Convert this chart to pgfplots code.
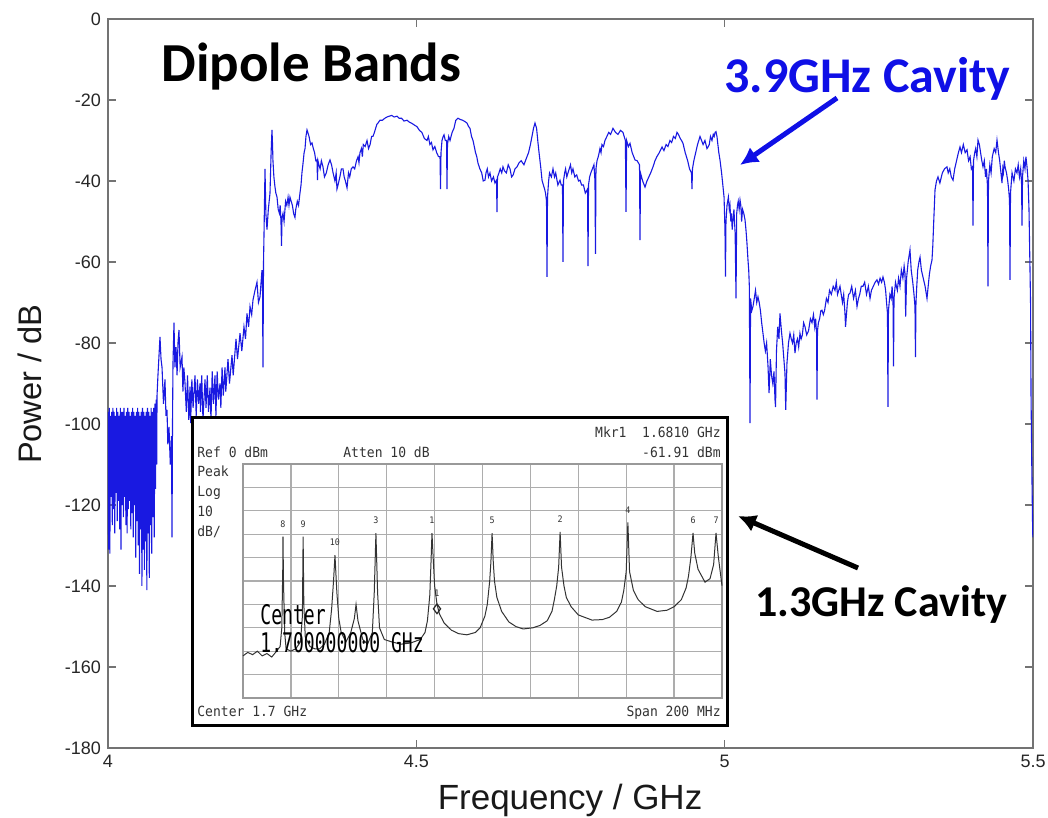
\documentclass[border=0pt]{standalone}
\usepackage{pgfplots}
\pgfplotsset{compat=1.18}
\usetikzlibrary{arrows.meta}
\usepackage{fontspec}
\setmainfont{Liberation Sans}
\newfontfamily\calibri{Carlito}
\newfontfamily\spec[FakeStretch=0.93]{DejaVu Sans Mono}
\newfontfamily\specbig[FakeStretch=0.67]{DejaVu Sans Mono}
\definecolor{trace}{RGB}{25,25,225}
\definecolor{annot}{RGB}{15,15,230}
\begin{document}
\begin{tikzpicture}
\useasboundingbox (-54pt,-35pt) rectangle (470pt,374pt);
\begin{axis}[
  at={(0pt,0pt)}, anchor=south west,
  scale only axis, width=462.5pt, height=364.5pt,
  xmin=4, xmax=5.5, ymin=-180, ymax=0,
  xtick={4,4.5,5,5.5}, ytick={-180,-160,-140,-120,-100,-80,-60,-40,-20,0},
  xticklabels={4,4.5,5,5.5},
  /pgf/number format/assume math mode=true,
  ticklabel style={font=\fontsize{9}{10}\selectfont, text=black!85},
  axis line style={black!55, line width=0.6pt},
  major tick style={black!55, line width=0.6pt},
  major tick length=4pt,
  tick align=inside,
  xlabel={Frequency / GHz}, ylabel={Power / dB},
  xlabel style={font=\fontsize{17.5}{19}\selectfont, text=black!90, at={(axis description cs:0.4995,-0.0713)}, anchor=center},
  ylabel style={font=\fontsize{16.3}{18}\selectfont, text=black!90, at={(axis description cs:-0.0843,0.499)}, anchor=center},
]
\addplot[trace, line width=0.55pt] coordinates {
(4.000,-97)(4.001,-131)(4.002,-96)(4.003,-132)(4.004,-98)(4.005,-118)(4.006,-97)(4.007,-125)(4.008,-96)(4.009,-121)
(4.010,-97)(4.011,-127)(4.012,-98)(4.013,-117)(4.014,-96)(4.015,-124)(4.016,-97)(4.017,-119)(4.018,-98)(4.019,-126)
(4.020,-96)(4.021,-131)(4.022,-97)(4.023,-120)(4.024,-97)(4.025,-123)(4.026,-96)(4.027,-118)(4.028,-98)(4.029,-125)
(4.030,-97)(4.031,-127)(4.032,-96)(4.033,-121)(4.034,-97)(4.035,-119)(4.036,-98)(4.037,-126)(4.038,-97)(4.039,-122)
(4.040,-96)(4.041,-128)(4.042,-97)(4.043,-120)(4.044,-98)(4.045,-133)(4.046,-97)(4.047,-124)(4.048,-96)(4.049,-130)
(4.050,-97)(4.051,-137)(4.052,-98)(4.053,-126)(4.054,-97)(4.055,-140)(4.056,-96)(4.057,-131)(4.058,-97)(4.059,-136)
(4.060,-98)(4.061,-129)(4.062,-97)(4.063,-141)(4.064,-96)(4.065,-127)(4.066,-97)(4.067,-138)(4.068,-98)(4.069,-125)
(4.070,-96)(4.071,-132)(4.072,-97)(4.073,-123)(4.074,-96)(4.075,-128)(4.076,-95)(4.077,-116)(4.078,-94)(4.079,-110)
(4.0795,-93)(4.0810,-88)(4.0843,-78.5)(4.0860,-84)(4.0876,-86)(4.0900,-95)(4.0924,-89)(4.0940,-98)(4.0957,-96.5)
(4.0970,-105)(4.0989,-100.7)(4.1010,-110)(4.1030,-103)(4.1038,-128)(4.1046,-100)(4.1054,-85)(4.1070,-75)(4.1085,-86)
(4.1103,-81)(4.1120,-88)(4.1135,-80)(4.1151,-76.8)(4.1170,-86)(4.1200,-83.4)(4.1215,-92)(4.1230,-86)(4.1249,-90)
(4.127,-97)(4.129,-88)(4.131,-99)(4.133,-90.8)(4.134,-99.8)(4.136,-89)(4.138,-96)(4.1411,-88)(4.143,-98)(4.145,-89)
(4.147,-95)(4.1492,-90)(4.150,-97)(4.152,-88)(4.154,-99)(4.1573,-89)(4.159,-96)(4.161,-88)(4.163,-97)(4.1654,-91)
(4.167,-99)(4.169,-87)(4.171,-95)(4.1735,-88)(4.175,-98)(4.177,-87)(4.179,-94)(4.1816,-90)(4.183,-96)(4.185,-86)
(4.187,-93)(4.1897,-86)(4.191,-92)(4.1946,-84)(4.197,-90)(4.2011,-83)(4.203,-88)(4.2076,-79)(4.210,-84)(4.2141,-77.6)
(4.217,-82)(4.2205,-76)(4.223,-79)(4.2254,-72.7)(4.228,-76)(4.2303,-71)(4.233,-73)(4.2351,-69.4)(4.2384,-67)(4.2416,-65)
(4.244,-70)(4.2465,-68.6)(4.2497,-62)(4.2505,-64)(4.2513,-86)(4.2522,-60)(4.2530,-53)(4.2546,-37)(4.2560,-48)(4.2578,-52)
(4.260,-47)(4.2627,-43)(4.2645,-33)(4.2659,-27.4)(4.2668,-31)(4.2675,-35)(4.2690,-39)(4.2708,-41.5)(4.2722,-43)
(4.2741,-44)(4.2760,-47)(4.2780,-48)(4.2792,-46)(4.2805,-50)(4.2814,-56)(4.2822,-49)(4.2838,-48)(4.2855,-50)(4.2870,-47)
(4.288,-45)(4.2900,-46)(4.2920,-44)(4.2935,-46)(4.2951,-44)(4.2970,-45)(4.299,-46)(4.3010,-48)(4.3032,-49)(4.3045,-47)
(4.307,-45)(4.3090,-46)(4.3113,-43)(4.3130,-41)(4.3145,-38)(4.3160,-36)(4.3180,-33)(4.3195,-32)(4.3210,-29)(4.3227,-27.4)
(4.3240,-28)(4.3260,-29)(4.3285,-31)(4.3308,-30.6)(4.3330,-32)(4.3350,-33)(4.3370,-35)(4.3389,-34.8)(4.3397,-39.8)
(4.3405,-35)(4.3420,-36)(4.3440,-37)(4.3460,-35)(4.3486,-36.5)(4.3510,-39)(4.3540,-38)(4.3570,-36)(4.3600,-34.8)
(4.3625,-36)(4.3650,-38)(4.3680,-40)(4.3700,-38)(4.3713,-42)(4.3730,-41)(4.3760,-39)(4.3785,-37)(4.3811,-37)(4.3830,-39)
(4.3850,-40)(4.3876,-41.7)(4.3900,-38)(4.3920,-39)(4.3945,-37)(4.3973,-36.5)(4.4000,-37)(4.4030,-35)(4.4055,-34)
(4.4070,-35.5)(4.4086,-33)(4.4110,-32)(4.4125,-34)(4.4140,-31)(4.4170,-31.5)(4.4200,-30)(4.4225,-32)(4.4250,-31)
(4.4275,-29)(4.4297,-29)(4.4320,-28)(4.4340,-27)(4.4360,-26)(4.4378,-25.7)(4.4410,-25)(4.4450,-25)(4.4490,-24.5)
(4.4524,-24.2)(4.4560,-24)(4.4600,-23.8)(4.4640,-24.2)(4.4686,-24)(4.4720,-24.5)(4.4760,-24.5)(4.4800,-25.2)(4.4849,-25)
(4.4890,-25.5)(4.4930,-25.8)(4.4970,-26.2)(4.5011,-26.6)(4.5050,-27.5)(4.5090,-28)(4.5130,-29.5)(4.5173,-30)(4.5195,-29)
(4.5220,-31)(4.5245,-30.5)(4.5270,-32.3)(4.5300,-31.5)(4.5330,-33)(4.5360,-34)(4.5384,-34)(4.5392,-42)(4.5400,-33)
(4.5416,-30)(4.5435,-29)(4.5449,-28.6)(4.5470,-30)(4.5490,-30)(4.5497,-42)(4.5505,-31)(4.5525,-29)(4.5546,-30)
(4.5580,-28)(4.5610,-27)(4.5640,-25)(4.5676,-24.5)(4.5710,-24.8)(4.5750,-25)(4.5785,-25.3)(4.5822,-25.7)(4.5845,-26.5)
(4.5870,-27)(4.5895,-29)(4.5919,-30)(4.5940,-31.5)(4.5960,-33)(4.5980,-34)(4.6000,-35.6)(4.6030,-37)(4.6060,-38)
(4.6085,-40)(4.6113,-39.8)(4.6130,-38)(4.6150,-37)(4.6170,-39)(4.6194,-38)(4.6220,-40)(4.6250,-39)(4.6275,-40.5)
(4.6300,-39.8)(4.6308,-47.7)(4.6316,-39)(4.6340,-38)(4.6360,-37)(4.6385,-38)(4.6405,-36.5)(4.6430,-37.5)(4.6460,-38)
(4.6490,-36)(4.6519,-37)(4.6545,-39)(4.6570,-38.5)(4.6600,-37)(4.6632,-36.5)(4.6665,-35.5)(4.6700,-35)(4.6745,-36)
(4.6794,-34)(4.6820,-33)(4.6850,-31)(4.6875,-29)(4.6900,-27)(4.6924,-25.7)(4.6950,-27)(4.6973,-30.6)(4.6990,-33)
(4.7005,-35)(4.7020,-37)(4.7038,-39.8)(4.7060,-41)(4.7080,-42)(4.7095,-43)(4.7111,-45)(4.7119,-63.7)(4.7127,-44)
(4.7145,-40)(4.7160,-38)(4.7190,-39)(4.7216,-37)(4.7240,-39)(4.7260,-38)(4.7295,-41)(4.7330,-39.8)(4.7350,-41)
(4.7370,-41)(4.7378,-60)(4.7386,-40)(4.7405,-38)(4.7420,-37)(4.7440,-39)(4.7459,-38)(4.7480,-37)(4.7500,-36)
(4.7520,-38)(4.7540,-37)(4.7570,-39)(4.7600,-38.5)(4.7630,-40)(4.7654,-39.8)(4.7680,-41)(4.7710,-41)(4.7740,-43)
(4.7776,-42)(4.7784,-61)(4.7792,-41)(4.7810,-39)(4.7830,-38)(4.7855,-37)(4.7880,-36)(4.7897,-40)(4.7905,-58)
(4.7913,-37)(4.7930,-35)(4.7950,-34)(4.7965,-33)(4.7978,-32)(4.7995,-33)(4.8010,-31)(4.8035,-31.5)(4.8059,-30)
(4.8090,-29)(4.8120,-28)(4.8150,-28.5)(4.8189,-27)(4.8230,-28)(4.8270,-28.5)(4.8310,-27.5)(4.8351,-28)(4.8370,-29)
(4.8390,-30)(4.8400,-47.6)(4.8410,-30)(4.8440,-31.5)(4.8465,-30.7)(4.8500,-33)(4.8546,-34.8)(4.8580,-35)(4.8619,-36)
(4.8627,-54.6)(4.8635,-38)(4.8670,-40)(4.8708,-41.5)(4.8740,-40)(4.8770,-39)(4.8800,-38)(4.8838,-36.5)(4.8870,-35)
(4.8900,-34)(4.8940,-33)(4.8984,-31.6)(4.9015,-32.5)(4.9050,-31)(4.9080,-31.5)(4.9113,-30)(4.9140,-30.5)(4.9170,-29)
(4.9200,-29.5)(4.9227,-28)(4.9250,-28.5)(4.9280,-29.5)(4.9300,-30)(4.9324,-30.7)(4.9360,-33)(4.9400,-35)(4.9430,-37)
(4.9462,-38)(4.9470,-42)(4.9478,-37)(4.9500,-35)(4.9530,-33)(4.9560,-31)(4.9600,-29)(4.9625,-30)(4.9650,-31)
(4.9680,-30)(4.9713,-32)(4.9735,-31.5)(4.9750,-31)(4.9770,-29)(4.9794,-30)(4.9815,-28.5)(4.9830,-29)(4.9845,-28)
(4.9859,-27.8)(4.9875,-29)(4.9890,-31)(4.9905,-33)(4.9924,-34.8)(4.9950,-38)(4.9973,-41.4)(4.9990,-44)(5.0005,-52)
(5.0013,-63.6)(5.0021,-50)(5.0038,-46)(5.0060,-44)(5.0075,-47)(5.0086,-46)(5.0100,-50)(5.0110,-48)(5.0122,-52)
(5.0135,-49.6)(5.0150,-47)(5.0170,-53)(5.0184,-69)(5.0195,-48)(5.0208,-46)(5.0220,-45)(5.0235,-47)(5.0249,-44.7)
(5.0262,-46)(5.0275,-50)(5.0290,-47)(5.0310,-48)(5.0330,-49.6)(5.0345,-52)(5.0360,-55)(5.0378,-59.5)(5.0390,-62)
(5.0400,-66)(5.0411,-99.8)(5.0420,-69)(5.0440,-72)(5.0459,-71)(5.0480,-69)(5.0500,-67)(5.0520,-70)(5.0540,-68.6)
(5.0560,-70)(5.0580,-72)(5.0600,-75)(5.0621,-77.6)(5.0640,-80)(5.0660,-82)(5.0680,-80)(5.0703,-85.8)(5.0720,-92.4)
(5.0740,-84)(5.0760,-88)(5.0780,-90)(5.0800,-87)(5.0816,-94)(5.0825,-95.8)(5.0840,-82)(5.0860,-76)(5.0880,-79)
(5.0897,-72.7)(5.0920,-77)(5.0940,-80)(5.0960,-84)(5.0978,-87.5)(5.0990,-96.5)(5.1010,-85)(5.1035,-80)(5.1059,-77.6)
(5.1080,-79)(5.1100,-80)(5.1120,-78)(5.1140,-82.5)(5.1160,-80)(5.1180,-79)(5.1200,-81)(5.1221,-77.6)(5.1240,-79)
(5.1260,-78)(5.1280,-75)(5.1303,-76)(5.1330,-78)(5.1360,-77)(5.1390,-74)(5.1416,-75)(5.1440,-73)(5.1460,-76)
(5.1475,-74)(5.1490,-77.6)(5.1497,-94)(5.1505,-77)(5.1520,-75)(5.1540,-74)(5.1560,-72)(5.1578,-71.9)(5.1600,-73)
(5.1620,-72)(5.1650,-69)(5.1676,-70)(5.1700,-67)(5.1730,-68)(5.1760,-66)(5.1789,-67)(5.1810,-65)(5.1830,-68)
(5.1850,-67)(5.1870,-66)(5.1890,-68)(5.1910,-70)(5.1930,-68)(5.1951,-72.7)(5.1960,-76)(5.1990,-70)(5.2010,-68)
(5.2032,-67.7)(5.2060,-66)(5.2090,-69)(5.2120,-67)(5.2146,-71)(5.2170,-69)(5.2190,-68)(5.2215,-66)(5.2243,-66)
(5.2270,-65)(5.2300,-68)(5.2330,-66)(5.2357,-69)(5.2380,-67)(5.2410,-66)(5.2440,-65)(5.2470,-64.4)(5.2495,-65.5)
(5.2520,-64)(5.2545,-65)(5.2567,-63.7)(5.2590,-65)(5.2610,-67)(5.2625,-70)(5.2640,-72.7)(5.2648,-95.8)(5.2656,-72)
(5.2680,-68)(5.2700,-69)(5.2715,-66)(5.2730,-70)(5.2738,-85.8)(5.2746,-69)(5.2770,-65)(5.2800,-67)(5.2820,-64)
(5.2843,-66)(5.2865,-62)(5.2890,-64)(5.2910,-61)(5.2924,-62.8)(5.2935,-73.5)(5.2950,-64)(5.2975,-60)(5.3005,-57)
(5.3025,-62)(5.3050,-65)(5.3070,-68)(5.3086,-71)(5.3094,-83.5)(5.3102,-70)(5.3115,-66)(5.3130,-62)(5.3150,-60)
(5.3168,-58.8)(5.3190,-62)(5.3220,-64)(5.3250,-66)(5.3281,-69)(5.3300,-66)(5.3320,-63)(5.3340,-61)(5.3362,-59.5)
(5.3375,-56)(5.3390,-50)(5.3411,-42.2)(5.3435,-40)(5.3459,-39)(5.3490,-40.5)(5.3530,-38)(5.3565,-37)(5.3605,-36.5)
(5.3625,-38)(5.3650,-37)(5.3675,-39)(5.3703,-39.8)(5.3730,-37)(5.3760,-35)(5.3790,-33)(5.3816,-31.6)(5.3840,-33)
(5.3870,-31)(5.3900,-33)(5.3930,-32.3)(5.3955,-35)(5.3980,-34)(5.4000,-37)(5.4019,-36.5)(5.4027,-51)(5.4035,-35)
(5.4055,-33)(5.4070,-32)(5.4090,-34)(5.4108,-29.9)(5.4130,-31)(5.4150,-33)(5.4170,-35)(5.4189,-36.5)(5.4210,-35)
(5.4230,-39)(5.4245,-37)(5.4262,-41.4)(5.4270,-66)(5.4278,-40)(5.4300,-36)(5.4320,-38)(5.4340,-34)(5.4370,-32)
(5.4395,-33)(5.4416,-29.9)(5.4440,-33)(5.4460,-35)(5.4480,-38)(5.4497,-40.5)(5.4510,-37)(5.4520,-38)(5.4535,-35)
(5.4546,-36.5)(5.4570,-38)(5.4590,-40)(5.4605,-42)(5.4619,-44.7)(5.4627,-64.4)(5.4635,-43)(5.4660,-38)(5.4690,-40)
(5.4715,-37)(5.4740,-38)(5.4760,-36)(5.4780,-39)(5.4800,-37)(5.4814,-40.5)(5.4822,-51)(5.4830,-39)(5.4850,-35)
(5.4870,-37)(5.4885,-34)(5.4903,-36.5)(5.4920,-40)(5.4935,-47)(5.4960,-70)(5.4968,-93)(5.4980,-110)(5.4995,-127)
(5.5000,-128)
};
\end{axis}
% inset frame
\draw[black, line width=1.5pt, fill=white] (42pt,11pt) rectangle (309.5pt,165pt);
\begin{axis}[
  at={(67.5pt,25pt)}, anchor=south west,
  scale only axis, width=239.5pt, height=117pt,
  xmin=1.6, xmax=1.8, ymin=-100, ymax=0,
  xtick={1.6,1.62,1.64,1.66,1.68,1.7,1.72,1.74,1.76,1.78,1.8},
  ytick={-100,-90,-80,-70,-60,-50,-40,-30,-20,-10,0},
  xticklabels={}, yticklabels={},
  major tick length=0pt,
  grid=major, grid style={black!32, line width=0.65pt},
  axis line style={black!40, line width=0.65pt},
  clip=false,
]
\addplot[black!80, line width=0.5pt] coordinates {
(1.600,-82)(1.602,-80.5)(1.604,-81.5)(1.606,-80)(1.608,-82)(1.610,-81)(1.612,-82.5)(1.614,-80)
(1.6155,-78)(1.6162,-70)(1.6166,-45)(1.6167,-31)(1.6169,-50)(1.6174,-72)(1.618,-79)(1.620,-80)(1.622,-79)
(1.6240,-76)(1.6248,-65)(1.6251,-31)(1.6254,-60)(1.626,-74)(1.628,-78)(1.630,-79)(1.632,-79)(1.634,-77)
(1.636,-72)(1.637,-62)(1.6378,-50)(1.6384,-39)(1.6392,-55)(1.640,-66)(1.641,-72)(1.643,-76)(1.645,-72)
(1.6465,-66)(1.6472,-60)(1.648,-67)(1.650,-75)(1.652,-77)(1.654,-72)(1.6548,-55)(1.6555,-29.5)(1.6562,-55)
(1.657,-70)(1.659,-75)(1.662,-76)(1.666,-77)(1.670,-76.5)(1.674,-75)(1.676,-72)(1.677,-67)(1.678,-56)
(1.6785,-42)(1.6789,-29.5)(1.6795,-42)(1.680,-52)(1.681,-60)(1.682,-64)(1.684,-68)(1.687,-71)(1.690,-72.5)
(1.6935,-73)(1.697,-72)(1.699,-70)(1.701,-65)(1.702,-60)(1.703,-50)(1.7035,-42)(1.704,-29.5)(1.7045,-42)
(1.705,-50)(1.706,-57)(1.708,-63)(1.711,-67.5)(1.714,-69.5)(1.717,-70.5)(1.721,-70)(1.724,-69)(1.727,-67)
(1.729,-63)(1.730,-58)(1.731,-52)(1.7318,-44)(1.7324,-29)(1.733,-44)(1.734,-52)(1.735,-57)(1.737,-61)
(1.740,-64.5)(1.7457,-66.7)(1.750,-66.5)(1.753,-65.5)(1.756,-63)(1.758,-59)(1.759,-54)(1.760,-46)(1.7607,-25)
(1.7614,-46)(1.763,-54)(1.765,-58)(1.768,-61)(1.7729,-63)(1.777,-62.5)(1.780,-61)(1.783,-58)(1.785,-53)
(1.786,-48)(1.787,-40)(1.7879,-29.5)(1.7886,-38)(1.790,-45)(1.7929,-50.5)(1.795,-49)(1.7965,-43)(1.7975,-29.5)
(1.7985,-40)(1.800,-52)
};
\addplot[only marks, mark=diamond, mark size=2.4pt, black!85, mark options={line width=0.6pt}] coordinates {(1.681,-61.9)};
\node[font=\spec\fontsize{4.5}{5}\selectfont, anchor=south, black!80] at (axis cs:1.6167,-30) {8};
\node[font=\spec\fontsize{4.5}{5}\selectfont, anchor=south, black!80] at (axis cs:1.6251,-30) {9};
\node[font=\spec\fontsize{4.5}{5}\selectfont, anchor=south, black!80] at (axis cs:1.6384,-38) {10};
\node[font=\spec\fontsize{4.5}{5}\selectfont, anchor=south, black!80] at (axis cs:1.6555,-28.5) {3};
\node[font=\spec\fontsize{4.5}{5}\selectfont, anchor=south, black!80] at (axis cs:1.6789,-28.5) {1};
\node[font=\spec\fontsize{4.5}{5}\selectfont, anchor=south, black!80] at (axis cs:1.704,-28.5) {5};
\node[font=\spec\fontsize{4.5}{5}\selectfont, anchor=south, black!80] at (axis cs:1.7324,-28) {2};
\node[font=\spec\fontsize{4.5}{5}\selectfont, anchor=south, black!80] at (axis cs:1.7607,-24) {4};
\node[font=\spec\fontsize{4.5}{5}\selectfont, anchor=south, black!80] at (axis cs:1.7879,-28.5) {6};
\node[font=\spec\fontsize{4.5}{5}\selectfont, anchor=south, black!80] at (axis cs:1.7975,-28.5) {7};
\node[font=\spec\fontsize{4.5}{5}\selectfont, anchor=south, black!80] at (axis cs:1.681,-59.5) {1};
\end{axis}
% inset texts
\begin{scope}[every node/.style={font=\spec\fontsize{7}{8}\selectfont, text=black!80, inner sep=0pt}]
\node[anchor=base west] at (44.5pt,145pt) {Ref 0 dBm};
\node[anchor=base west] at (117.5pt,145pt) {Atten 10 dB};
\node[anchor=base east] at (306.5pt,155pt) {Mkr1 \ 1.6810 GHz};
\node[anchor=base east] at (306.5pt,145pt) {-61.91 dBm};
\node[anchor=base west] at (44.5pt,135.5pt) {Peak};
\node[anchor=base west] at (44.5pt,125.5pt) {Log};
\node[anchor=base west] at (44.5pt,115.5pt) {10};
\node[anchor=base west] at (44.5pt,105.5pt) {dB/};
\node[anchor=base west] at (44.5pt,15.5pt) {Center 1.7 GHz};
\node[anchor=base east] at (306.5pt,15.5pt) {Span 200 MHz};
\end{scope}
\node[anchor=base west, inner sep=0pt, font=\specbig\fontsize{13.5}{14}\selectfont] at (76pt,61.5pt) {Center};
\node[anchor=base west, inner sep=0pt, font=\specbig\fontsize{13.5}{14}\selectfont] at (76pt,47.5pt) {1.700000000 GHz};
% annotations
\node[anchor=base west, inner sep=0pt, font=\calibri\bfseries\fontsize{27.5}{29}\selectfont] at (26.5pt,333pt) {Dipole Bands};
\node[anchor=base west, inner sep=0pt, font=\calibri\bfseries\fontsize{25}{27}\selectfont, text=annot] at (308pt,327.5pt) {3.9GHz Cavity};
\node[anchor=base west, inner sep=0pt, font=\calibri\bfseries\fontsize{22}{24}\selectfont] at (323.5pt,65.5pt) {1.3GHz Cavity};
\draw[annot, line width=2.5pt, -{Latex[length=9pt,width=9pt]}] (364.5pt,325pt) -- (316pt,291.5pt);
\draw[black, line width=2.5pt, -{Latex[length=9pt,width=9pt]}] (375pt,90pt) -- (315pt,116pt);
\end{tikzpicture}
\end{document}
